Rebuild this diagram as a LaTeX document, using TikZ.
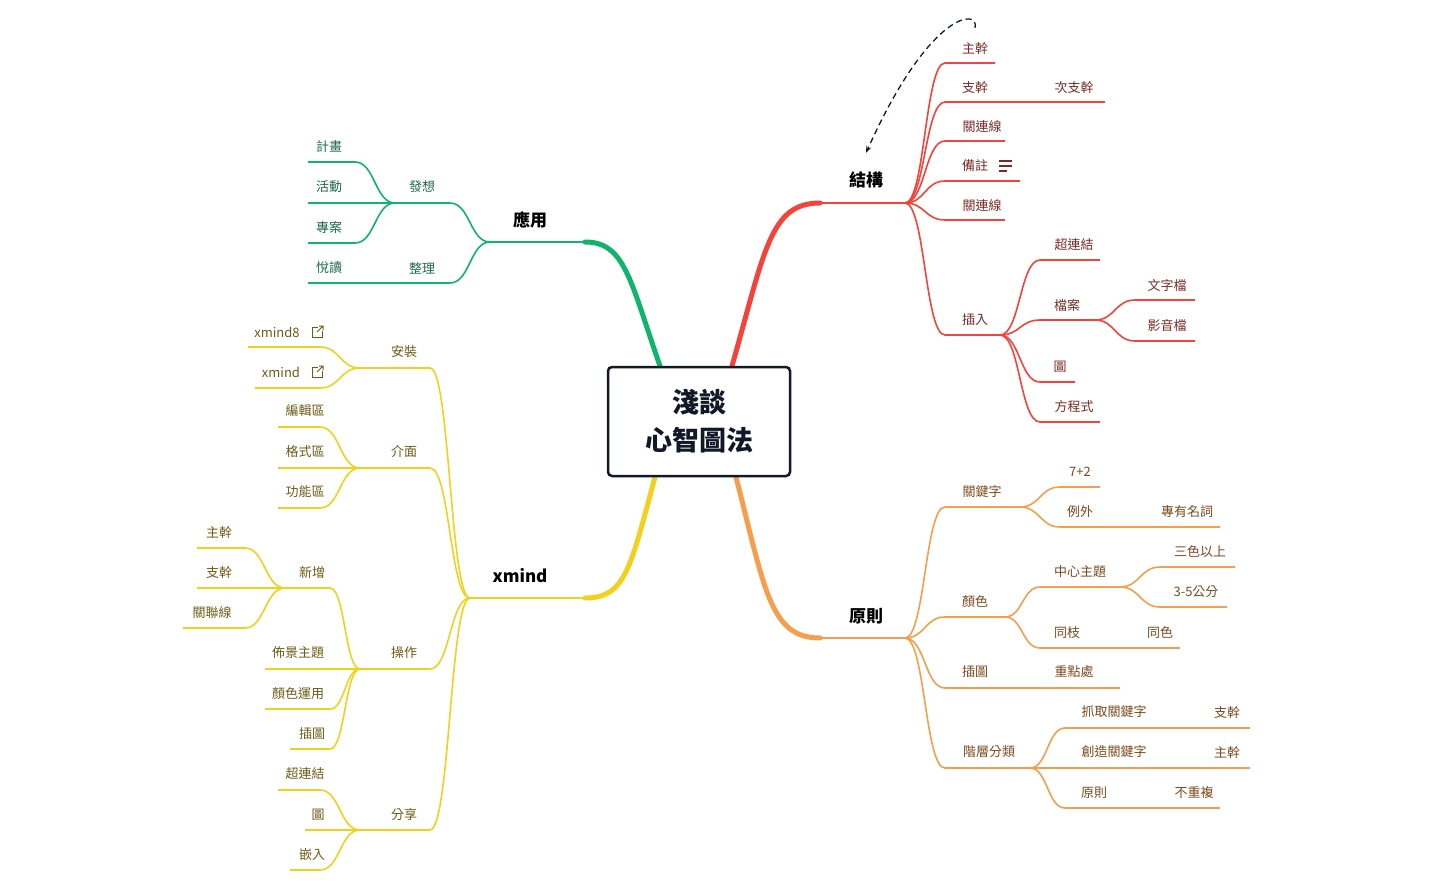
\documentclass[tikz,border=0pt]{standalone}
\usepackage{fontspec}
\setmainfont{Noto Sans CJK TC}
\usetikzlibrary{arrows.meta}
\definecolor{cR}{HTML}{F4433A}\definecolor{tR}{HTML}{7A2A24}
\definecolor{cO}{HTML}{F59E4C}\definecolor{tO}{HTML}{7A4A1C}
\definecolor{cG}{HTML}{12B36E}\definecolor{tG}{HTML}{1D6A4C}
\definecolor{cY}{HTML}{F2D01E}\definecolor{tY}{HTML}{6E5A16}
\definecolor{dk}{HTML}{111827}
\newcommand{\br}[6]{\draw[#1,line width=1.6pt] (#2,#3) .. controls ({(#2+#4)/2},#3) and ({(#2+#4)/2},#5) .. (#4,#5) -- (#6,#5);}
\newcommand{\lk}[3]{\draw[#1,line width=1pt] (#2+1,#3-5) -- (#2-5,#3-5) -- (#2-5,#3+5) -- (#2+5,#3+5) -- (#2+5,#3-1); \draw[#1,line width=1pt] (#2,#3) -- (#2+6,#3-6) (#2+2,#3-6) -- (#2+6,#3-6) -- (#2+6,#3-2);}
\begin{document}
\begin{tikzpicture}[x=1pt,y=-1pt,
 lab/.style={font=\fontsize{13}{15}\selectfont, inner sep=0pt},
 main/.style={font=\fontsize{17}{20}\selectfont\bfseries, inner sep=0pt, text=black}]
\useasboundingbox (0,0) rectangle (1433,888);
% main branches
\draw[cR,line width=5pt,line cap=round] (732,366) .. controls (765,250) and (770,203) .. (820,203);
\draw[cR,line width=2.5pt] (815,203) -- (905,203);
\draw[cO,line width=5pt,line cap=round] (736,477) .. controls (765,590) and (770,638) .. (820,638);
\draw[cO,line width=2.5pt] (815,638) -- (905,638);
\draw[cG,line width=5pt,line cap=round] (660,366) .. controls (630,280) and (625,242) .. (585,242);
\draw[cG,line width=2.5pt] (590,242) -- (490,242);
\draw[cY,line width=5pt,line cap=round] (655,477) .. controls (630,570) and (625,598) .. (585,598);
\draw[cY,line width=2.5pt] (590,598) -- (470,598);
\node[main] (s) at (866,180) {結構};
\node[main] (p) at (866,616) {原則};
\node[main] (a) at (530,220) {應用};
\node[main] (x) at (520,576) {xmind};
% center
\node[draw=dk,line width=2.5pt,rounded corners=4pt,fill=white,minimum width=182pt,minimum height=109pt,align=center,font=\fontsize{27}{38}\selectfont\bfseries,text=dk] (c) at (699,421.5) {淺談\\心智圖法};
% structure
\br{cR}{905}{203}{945}{63}{995}
\br{cR}{905}{203}{945}{102}{1105}
\br{cR}{905}{203}{945}{141}{1005}
\br{cR}{905}{203}{945}{181}{1020}
\br{cR}{905}{203}{945}{220}{1005}
\br{cR}{905}{203}{945}{335}{1000}
\br{cR}{1000}{335}{1040}{260}{1100}
\br{cR}{1000}{335}{1040}{320}{1095}
\br{cR}{1000}{335}{1040}{382}{1075}
\br{cR}{1000}{335}{1040}{422}{1100}
\br{cR}{1095}{320}{1135}{300}{1195}
\br{cR}{1095}{320}{1135}{341}{1195}
\begin{scope}[every node/.style={lab,text=tR}]
\node (s1) at (975,48) {主幹};
\node (s2) at (975,87) {支幹};
\node (s2a) at (1074,87) {次支幹};
\node (s3) at (982,127) {關連線};
\node (s4) at (975,166) {備註};
\node (s5) at (982,206) {關連線};
\node (s6) at (975,320) {插入};
\node (s61) at (1074,245) {超連結};
\node (s62) at (1067,306) {檔案};
\node (s63) at (1060,367) {圖};
\node (s64) at (1074,407) {方程式};
\node (s621) at (1167,286) {文字檔};
\node (s622) at (1167,326) {影音檔};
\end{scope}
\draw[tR,line width=1.2pt] (999,161) -- (1012,161) (999,166) -- (1012,166) (999,171) -- (1007,171);
\draw[dk,line width=1.3pt,dashed,dash pattern=on 6pt off 4pt,-{Stealth[length=7pt]}] (975,28) .. controls (980,8) and (930,10) .. (866,153);
% principles
\br{cO}{905}{638}{945}{507}{1020}
\br{cO}{905}{638}{945}{617}{1005}
\br{cO}{905}{638}{945}{688}{1120}
\br{cO}{905}{638}{945}{768}{1030}
\br{cO}{1020}{507}{1060}{487}{1100}
\br{cO}{1020}{507}{1060}{527}{1220}
\br{cO}{1005}{617}{1040}{587}{1120}
\br{cO}{1005}{617}{1040}{648}{1180}
\br{cO}{1120}{587}{1160}{567}{1235}
\br{cO}{1120}{587}{1160}{607}{1227}
\br{cO}{1030}{768}{1065}{728}{1250}
\br{cO}{1030}{768}{1065}{768}{1250}
\br{cO}{1030}{768}{1065}{808}{1220}
\begin{scope}[every node/.style={lab,text=tO}]
\node at (982,492) {關鍵字};
\node at (1080,472) {7+2};
\node at (1080,512) {例外};
\node at (1187,512) {專有名詞};
\node at (975,602) {顏色};
\node at (1080,572) {中心主題};
\node at (1200,552) {三色以上};
\node at (1196,592) {3-5公分};
\node at (1067,633) {同枝};
\node at (1160,633) {同色};
\node at (975,672) {插圖};
\node at (1074,672) {重點處};
\node at (989,752) {階層分類};
\node at (1114,712) {抓取關鍵字};
\node at (1227,712) {支幹};
\node at (1114,752) {創造關鍵字};
\node at (1227,752) {主幹};
\node at (1094,793) {原則};
\node at (1194,793) {不重複};
\end{scope}
% application
\br{cG}{490}{242}{450}{203}{395}
\br{cG}{490}{242}{450}{283}{308}
\br{cG}{395}{203}{355}{162}{308}
\br{cG}{395}{203}{355}{203}{308}
\br{cG}{395}{203}{355}{243}{308}
\begin{scope}[every node/.style={lab,text=tG}]
\node at (422,187) {發想};
\node at (422,268) {整理};
\node at (329,147) {計畫};
\node at (329,187) {活動};
\node at (329,228) {專案};
\node at (329,268) {悅讀};
\end{scope}
% xmind
\br{cY}{470}{598}{430}{368}{360}
\br{cY}{470}{598}{430}{468}{360}
\br{cY}{470}{598}{430}{669}{360}
\br{cY}{470}{598}{430}{830}{360}
\br{cY}{360}{368}{320}{347}{248}
\br{cY}{360}{368}{320}{388}{255}
\br{cY}{360}{468}{320}{427}{278}
\br{cY}{360}{468}{320}{468}{278}
\br{cY}{360}{468}{320}{508}{278}
\br{cY}{360}{669}{330}{588}{285}
\br{cY}{285}{588}{245}{548}{197}
\br{cY}{285}{588}{245}{588}{197}
\br{cY}{285}{588}{245}{628}{183}
\br{cY}{360}{669}{330}{669}{265}
\br{cY}{360}{669}{330}{709}{265}
\br{cY}{360}{669}{330}{749}{290}
\br{cY}{360}{830}{320}{790}{278}
\br{cY}{360}{830}{320}{830}{305}
\br{cY}{360}{830}{320}{870}{290}
\begin{scope}[every node/.style={lab,text=tY}]
\node at (404,352) {安裝};
\node at (277,332) {xmind8};
\node at (281,372) {xmind};
\node at (404,452) {介面};
\node at (305,411) {編輯區};
\node at (305,452) {格式區};
\node at (305,492) {功能區};
\node at (404,653) {操作};
\node at (312,572) {新增};
\node at (219,532) {主幹};
\node at (219,572) {支幹};
\node at (212,613) {關聯線};
\node at (298,653) {佈景主題};
\node at (298,694) {顏色運用};
\node at (312,734) {插圖};
\node at (404,815) {分享};
\node at (305,774) {超連結};
\node at (318,815) {圖};
\node at (312,855) {嵌入};
\end{scope}
\lk{tY}{317}{332}
\lk{tY}{317}{372}
\end{tikzpicture}
\end{document}
